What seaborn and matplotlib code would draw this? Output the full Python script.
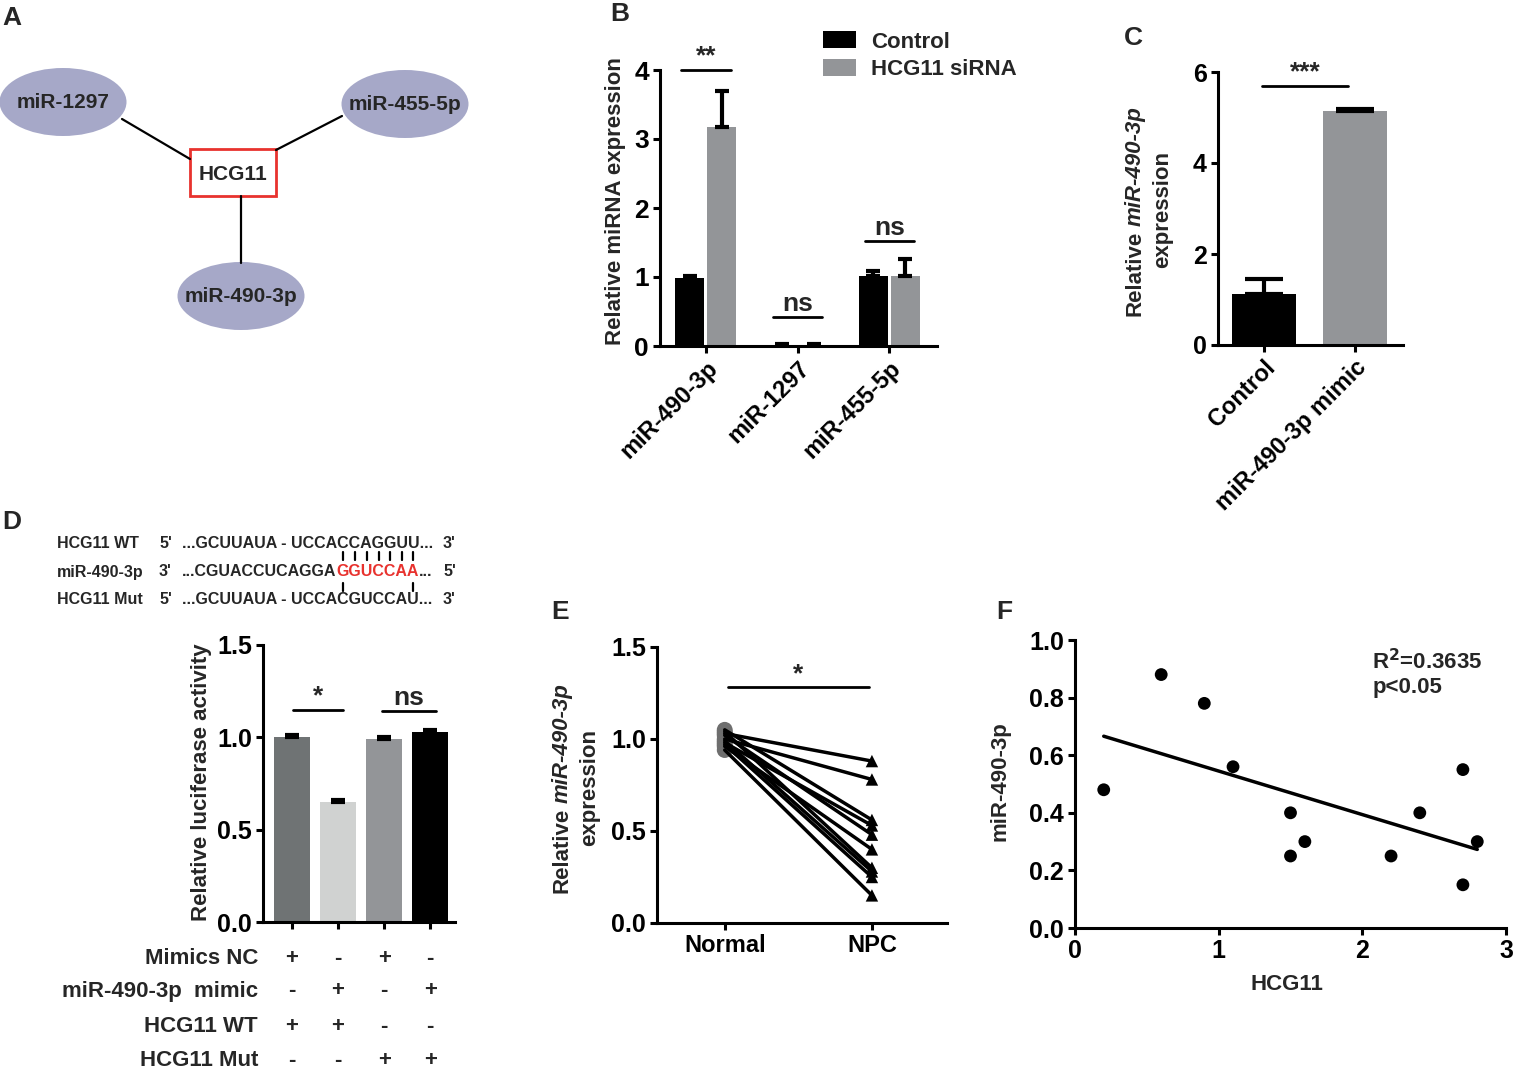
import matplotlib
matplotlib.use("Agg")
import matplotlib.pyplot as plt
from matplotlib.transforms import IdentityTransform, blended_transform_factory
from matplotlib.patches import Ellipse, Rectangle
import seaborn as sns
import pandas as pd
import numpy as np

W, H = 1514, 1071

# A. red de interacciones
nodes_a = ["miR-1297", "miR-455-5p", "miR-490-3p"]
hub_a = "HCG11"

# B. expresion de miRNA tras siRNA
mirnas_b = ["miR-490-3p", "miR-1297", "miR-455-5p"]
groups_b = ["Control", "HCG11 siRNA"]
control_b = [0.98, 0.02, 1.01]
control_b_err = [0.04, 0.01, 0.08]
sirna_b = [3.17, 0.02, 1.01]
sirna_b_err = [0.53, 0.01, 0.25]
sig_b = ["**", "ns", "ns"]
sig_b_y = [4.0, 0.42, 1.52]

# C. mimic
groups_c = ["Control", "miR-490-3p mimic"]
values_c = [1.13, 5.15]
err_c = [0.33, 0.03]

# D. luciferasa
seq_names = ["HCG11 WT", "miR-490-3p", "HCG11 Mut"]
seq_ends = [("5'", "3'"), ("3'", "5'"), ("5'", "3'")]
seq_wt = "...GCUUAUA - UCCACCAGGUU..."
seq_mir_black = "...CGUACCUCAGGA"
seq_mir_red = "GGUCCAA"
seq_mut = "...GCUUAUA - UCCACGUCCAU..."
pair_wt = [0, 1, 2, 3, 4, 5, 6]
pair_mut = [0, 6]
luc_values = [1.0, 0.65, 0.99, 1.03]
luc_err = [0.01, 0.01, 0.01, 0.01]
cond_labels = ["Mimics NC", "miR-490-3p  mimic", "HCG11 WT", "HCG11 Mut"]
cond_signs = [["+", "-", "+", "-"],
              ["-", "+", "-", "+"],
              ["+", "+", "-", "-"],
              ["-", "-", "+", "+"]]

# E. pares normal / NPC
normal_e = [1.03, 1.00, 1.05, 0.98, 1.02, 0.96, 1.04, 0.99, 0.97, 0.94]
npc_e = [0.88, 0.78, 0.56, 0.53, 0.48, 0.40, 0.30, 0.28, 0.25, 0.15]

# F. correlacion
hcg11_f = [0.2, 0.6, 0.9, 1.1, 1.5, 1.5, 1.6, 2.2, 2.4, 2.7, 2.7, 2.8]
mir_f = [0.48, 0.88, 0.78, 0.56, 0.40, 0.25, 0.30, 0.25, 0.40, 0.55, 0.15, 0.30]

sns.set_style("ticks")
plt.rcParams["font.family"] = ["Liberation Sans", "DejaVu Sans"]
plt.rcParams["font.weight"] = "bold"
plt.rcParams["axes.linewidth"] = 2.2
for k in ["xtick", "ytick"]:
    plt.rcParams[k + ".major.width"] = 2.2
    plt.rcParams[k + ".major.size"] = 5
    plt.rcParams[k + ".major.pad"] = 3
    plt.rcParams[k + ".color"] = "black"
plt.rcParams["axes.edgecolor"] = "black"

fig = plt.figure(figsize=(W / 100, H / 100), dpi=100)
renderer = fig.canvas.get_renderer()

# capa en pixeles para el diagrama y los textos sueltos
ax0 = fig.add_axes([0, 0, 1, 1])
ax0.set_xlim(0, W)
ax0.set_ylim(H, 0)
ax0.axis("off")


def px_axes(x0, y0, x1, y1):
    ax = fig.add_axes([x0 / W, 1 - y1 / H, (x1 - x0) / W, (y1 - y0) / H])
    ax.patch.set_alpha(0)
    return ax


def vlabel(x, yc, parts, size=16):
    # etiqueta vertical con trozos en cursiva
    texts = []
    for s, st in parts:
        t = fig.text(0, 0, s, rotation=90, fontsize=size, style=st, ha="center",
                     va="bottom", transform=IdentityTransform())
        texts.append(t)
    hs = [t.get_window_extent(renderer).height for t in texts]
    gap = 5
    total = sum(hs) + gap * (len(hs) - 1)
    y = (H - yc) - total / 2
    for t, h in zip(texts, hs):
        t.set_position((x, y))
        y += h + gap


def up_err(ax, xs, ys, errs, capsize):
    ax.errorbar(xs, ys, yerr=[np.zeros(len(errs)), errs], fmt="none", ecolor="black",
                elinewidth=3, capsize=capsize, capthick=3, zorder=3)


def sig(ax, x0, x1, y, label, size=19):
    ax.plot([x0, x1], [y, y], color="black", lw=2, clip_on=False)
    ax.annotate(label, xy=((x0 + x1) / 2, y), xytext=(0, 1), textcoords="offset points",
                ha="center", va="bottom", fontsize=size, annotation_clip=False)


def width_of(s, size):
    t = ax0.text(0, 0, s, fontsize=size)
    w = t.get_window_extent(renderer).width
    t.remove()
    return w


# ---------------- A ----------------
pos_a = {"miR-1297": (63, 102), "miR-455-5p": (405, 104), "miR-490-3p": (241, 296)}
ends_a = {"miR-1297": ((122, 119), (190, 159)), "miR-455-5p": ((342, 116), (276, 150)),
          "miR-490-3p": ((241, 263), (241, 196))}
for name in nodes_a:
    (xa, ya), (xb, yb) = ends_a[name]
    ax0.plot([xa, xb], [ya, yb], color="black", lw=1.6)
    cx, cy = pos_a[name]
    ax0.add_patch(Ellipse((cx, cy), 127, 68, facecolor="#a6a8c8", edgecolor="none"))
    ax0.text(cx, cy, name, ha="center", va="center", fontsize=15)
ax0.add_patch(Rectangle((190, 149), 86, 47, facecolor="white", edgecolor="#e8322e", lw=2))
ax0.text(233, 175, hub_a, ha="center", va="center", fontsize=15)

# ---------------- B ----------------
ax_b = px_axes(660, 70, 937, 346)
df_b = pd.DataFrame({
    "mirna": mirnas_b * 2,
    "group": [groups_b[0]] * 3 + [groups_b[1]] * 3,
    "value": control_b + sirna_b,
})
sns.barplot(data=df_b, x="mirna", y="value", hue="group", palette=["black", "#939598"],
            errorbar=None, width=0.7, gap=0.1, saturation=1, linewidth=0, ax=ax_b)
xs = np.arange(len(mirnas_b))
up_err(ax_b, xs - 0.175, control_b, control_b_err, 5)
up_err(ax_b, xs + 0.175, sirna_b, sirna_b_err, 5)
for i in range(len(mirnas_b)):
    sig(ax_b, i - 0.27, i + 0.27, sig_b_y[i], sig_b[i])
ax_b.set_xlim(-0.50, 2.52)
ax_b.set_ylim(0, 4)
ax_b.set_yticks([0, 1, 2, 3, 4])
ax_b.set_xlabel("")
ax_b.set_ylabel("")
ax_b.tick_params(axis="y", labelsize=19)
ax_b.set_xticks(xs)
ax_b.set_xticklabels(mirnas_b, rotation=45, ha="right", rotation_mode="anchor", fontsize=17)
sns.despine(ax=ax_b)
sns.move_legend(ax_b, loc="upper left", bbox_to_anchor=(0.587, 1.14), title=None,
                frameon=False, fontsize=16, handlelength=1.5, handleheight=0.8,
                handletextpad=0.7, labelspacing=0.3, borderpad=0, borderaxespad=0)
vlabel(615, 201, [("Relative miRNA expression", "normal")])

# ---------------- C ----------------
ax_c = px_axes(1218, 72, 1403, 345)
sns.barplot(x=groups_c, y=values_c, hue=groups_c, palette=["black", "#939598"],
            legend=False, width=0.71, saturation=1, linewidth=0, ax=ax_c)
up_err(ax_c, [0, 1], values_c, err_c, 14)
sig(ax_c, -0.02, 0.93, 5.69, "***")
ax_c.set_xlim(-0.505, 1.53)
ax_c.set_ylim(0, 6)
ax_c.set_yticks([0, 2, 4, 6])
ax_c.tick_params(axis="y", labelsize=18)
ax_c.set_xticks([0, 1])
ax_c.set_xticklabels(groups_c, rotation=45, ha="right", rotation_mode="anchor", fontsize=17)
sns.despine(ax=ax_c)
vlabel(1135, 211, [("Relative", "normal"), ("miR-490-3p", "italic")])
vlabel(1163, 210, [("expression", "normal")])

# ---------------- D ----------------
fs_seq = 11.5
rows_y = [543, 572, 600]
for name, (e1, e2), y in zip(seq_names, seq_ends, rows_y):
    ax0.text(57, y, name, ha="left", va="center", fontsize=fs_seq)
    ax0.text(159, y, e1, ha="left", va="center", fontsize=fs_seq)
    ax0.text(443, y, e2, ha="left", va="center", fontsize=fs_seq)
ax0.text(182, rows_y[0], seq_wt, ha="left", va="center", fontsize=fs_seq)
ax0.text(182, rows_y[2], seq_mut, ha="left", va="center", fontsize=fs_seq)
ax0.text(182, rows_y[1], seq_mir_black, ha="left", va="center", fontsize=fs_seq)
w_black = width_of(seq_mir_black, fs_seq)
red_x = 182 + w_black
ax0.text(red_x, rows_y[1], seq_mir_red, ha="left", va="center", fontsize=fs_seq,
         color="#e8322e")
w_red = width_of(seq_mir_red, fs_seq)
ax0.text(red_x + w_red, rows_y[1], "...", ha="left", va="center", fontsize=fs_seq)
centers = [red_x + width_of(seq_mir_red[:k], fs_seq) + width_of(seq_mir_red[k], fs_seq) / 2
           if k else red_x + width_of(seq_mir_red[0], fs_seq) / 2
           for k in range(len(seq_mir_red))]
for k in pair_wt:
    ax0.plot([centers[k], centers[k]], [552, 560], color="black", lw=1.6)
for k in pair_mut:
    ax0.plot([centers[k], centers[k]], [583, 591], color="black", lw=1.6)

ax_d = px_axes(263, 645, 455, 922)
cond_ids = ["c1", "c2", "c3", "c4"]
sns.barplot(x=cond_ids, y=luc_values, hue=cond_ids,
            palette=["#6f7374", "#d0d2d1", "#939598", "black"], legend=False,
            width=0.78, saturation=1, linewidth=0, ax=ax_d)
up_err(ax_d, np.arange(4), luc_values, luc_err, 5)
sig(ax_d, 0.02, 1.1, 1.15, "*")
sig(ax_d, 1.96, 3.13, 1.14, "ns")
ax_d.set_xlim(-0.63, 3.54)
ax_d.set_ylim(0, 1.5)
ax_d.set_yticks([0, 0.5, 1.0, 1.5])
ax_d.set_yticklabels(["0.0", "0.5", "1.0", "1.5"])
ax_d.tick_params(axis="y", labelsize=18)
ax_d.set_xticks(np.arange(4))
ax_d.set_xticklabels([])
sns.despine(ax=ax_d)
tr = blended_transform_factory(ax_d.transData, fig.transFigure)
for lab, signs, y in zip(cond_labels, cond_signs, [958, 991, 1026, 1061]):
    fig.text(258 / W, 1 - y / H, lab, ha="right", va="center", fontsize=16)
    for i, s in enumerate(signs):
        ax_d.text(i, 1 - y / H, s, transform=tr, ha="center", va="center", fontsize=16)
vlabel(202, 782, [("Relative luciferase activity", "normal")])

# ---------------- E ----------------
ax_e = px_axes(657, 647, 947, 923)
n = len(normal_e)
df_e = pd.DataFrame({
    "subject": list(range(n)) * 2,
    "tissue": ["Normal"] * n + ["NPC"] * n,
    "value": normal_e + npc_e,
})
sns.lineplot(data=df_e, x="tissue", y="value", units="subject", estimator=None,
             color="black", lw=2.5, sort=False, ax=ax_e)
sns.scatterplot(data=df_e[df_e.tissue == "Normal"], x="tissue", y="value", marker="o",
                color="#6e6e6e", s=130, edgecolor="none", zorder=1, ax=ax_e)
sns.scatterplot(data=df_e[df_e.tissue == "NPC"], x="tissue", y="value", marker="^",
                color="black", s=80, edgecolor="none", zorder=3, ax=ax_e)
sig(ax_e, 0.02, 0.98, 1.28, "*")
ax_e.set_xlim(-0.46, 1.51)
ax_e.set_ylim(0, 1.5)
ax_e.set_yticks([0, 0.5, 1.0, 1.5])
ax_e.set_yticklabels(["0.0", "0.5", "1.0", "1.5"])
ax_e.tick_params(axis="y", labelsize=18)
ax_e.tick_params(axis="x", labelsize=17)
ax_e.set_xlabel("")
ax_e.set_ylabel("")
sns.despine(ax=ax_e)
vlabel(562, 788, [("Relative", "normal"), ("miR-490-3p", "italic")])
vlabel(590, 787, [("expression", "normal")])

# ---------------- F ----------------
ax_f = px_axes(1075, 640, 1506, 928)
sns.scatterplot(x=hcg11_f, y=mir_f, color="black", s=85, edgecolor="none", ax=ax_f)
sns.regplot(x=hcg11_f, y=mir_f, scatter=False, ci=None, truncate=True,
            line_kws={"color": "black", "lw": 2.5}, ax=ax_f)
ax_f.set_xlim(0, 3)
ax_f.set_ylim(0, 1)
ax_f.set_xticks([0, 1, 2, 3])
ax_f.set_yticks(np.round(np.arange(0, 1.01, 0.2), 1))
ax_f.set_yticklabels([f"{v:.1f}" for v in np.arange(0, 1.01, 0.2)])
ax_f.tick_params(labelsize=18)
sns.despine(ax=ax_f)
ax_f.text(0.69, 0.97, "R$^2$=0.3635\np<0.05", transform=ax_f.transAxes, ha="left",
          va="top", fontsize=16, linespacing=1.2)
vlabel(1000, 781, [("miR-490-3p", "normal")])
fig.text(1287 / W, 1 - 985 / H, "HCG11", ha="center", va="center", fontsize=16)

# letras de panel
for lab, x, y in [("A", 12, 18), ("B", 620, 14), ("C", 1133, 38), ("D", 12, 522),
                  ("E", 560, 612), ("F", 1004, 612)]:
    fig.text(x / W, 1 - y / H, lab, ha="center", va="center", fontsize=19)

fig.savefig("out.png", dpi=100)
